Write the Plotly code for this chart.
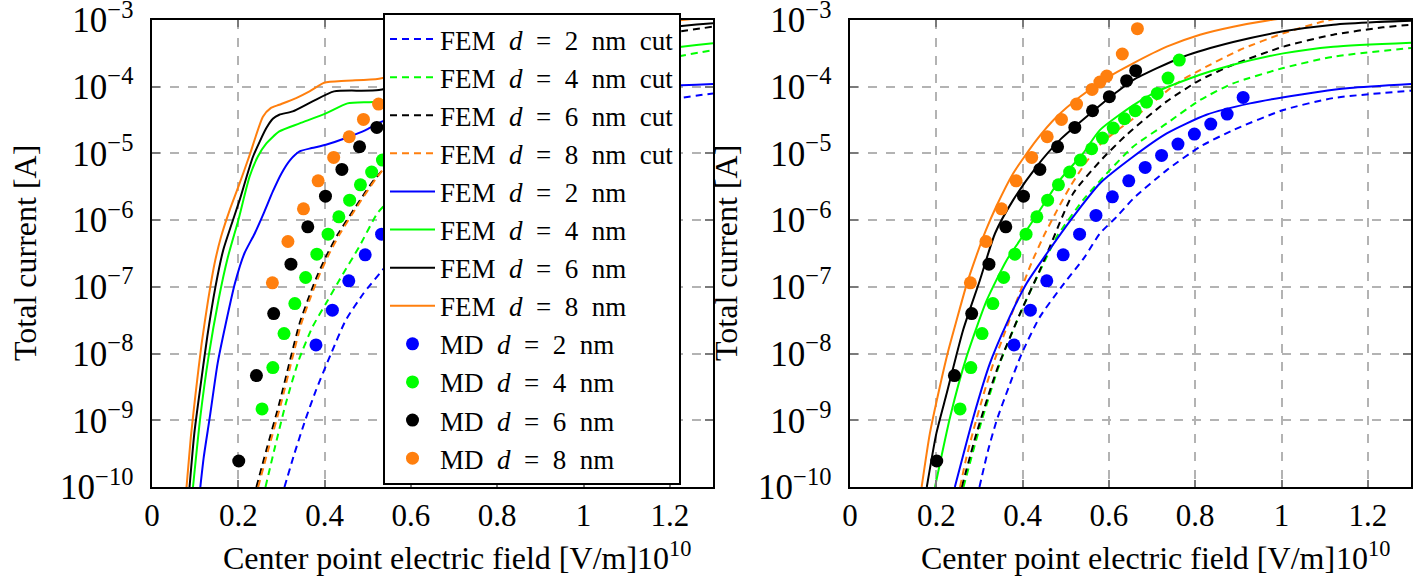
import numpy as np
import plotly.graph_objects as go

W, H = 1427, 583

# ---------------- data (log10 of total current [A]) ----------------
# MD points (identical in both panels); x in units of 1e10 V/m
md2_x = [0.380, 0.418, 0.456, 0.494, 0.532, 0.570, 0.608, 0.646, 0.684, 0.722, 0.760, 0.798, 0.836, 0.874, 0.911]
md2_lg = [-7.87, -7.35, -6.91, -6.52, -6.21, -5.93, -5.65, -5.41, -5.21, -5.03, -4.86, -4.71, -4.56, -4.41, -4.16]
md4_x = [0.255, 0.280, 0.306, 0.331, 0.356, 0.382, 0.408, 0.433, 0.458, 0.483, 0.509, 0.534, 0.560, 0.585,
         0.610, 0.636, 0.661, 0.687, 0.712, 0.737, 0.763]
md4_lg = [-8.83, -8.21, -7.70, -7.25, -6.86, -6.51, -6.21, -5.95, -5.70, -5.47, -5.28, -5.10, -4.93, -4.77,
          -4.62, -4.48, -4.36, -4.23, -4.10, -3.87, -3.60]
md6_x = [0.201, 0.242, 0.282, 0.322, 0.361, 0.402, 0.440, 0.481, 0.521, 0.562, 0.601, 0.641, 0.662]
md6_lg = [-9.61, -8.33, -7.40, -6.66, -6.10, -5.64, -5.24, -4.90, -4.61, -4.36, -4.15, -3.91, -3.76]
md8_x = [0.279, 0.315, 0.351, 0.385, 0.421, 0.457, 0.490, 0.525, 0.561, 0.579, 0.595, 0.631, 0.666]
md8_lg = [-6.94, -6.32, -5.83, -5.41, -5.06, -4.75, -4.49, -4.26, -4.04, -3.93, -3.84, -3.51, -3.13]

# Left panel FEM (full)
L_fem2_x = [0.112, 0.120, 0.134, 0.152, 0.171, 0.192, 0.214, 0.238, 0.260, 0.280, 0.300, 0.320, 0.342, 0.370, 0.403, 0.457, 0.495, 0.534, 0.7, 0.9, 1.1, 1.3]
L_fem2_lg = [-10.0, -9.55, -8.95, -8.15, -7.55, -6.95, -6.50, -6.20, -5.88, -5.57, -5.30, -5.10, -4.97, -4.92, -4.87, -4.75, -4.65, -4.52, -4.30, -4.12, -4.02, -3.96]
L_fem4_x = [0.095, 0.112, 0.131, 0.154, 0.176, 0.200, 0.226, 0.245, 0.265, 0.295, 0.342, 0.403, 0.453, 0.526, 0.7, 0.9, 1.1, 1.3]
L_fem4_lg = [-10.0, -8.95, -8.05, -7.20, -6.55, -6.00, -5.35, -5.05, -4.85, -4.67, -4.55, -4.40, -4.25, -4.22, -3.95, -3.70, -3.50, -3.35]
L_fem6_x = [0.087, 0.098, 0.110, 0.128, 0.147, 0.165, 0.185, 0.203, 0.234, 0.265, 0.280, 0.295, 0.326, 0.372, 0.422, 0.526, 0.7, 0.9, 1.1, 1.3]
L_fem6_lg = [-10.0, -9.20, -8.60, -7.75, -7.00, -6.45, -6.05, -5.70, -5.05, -4.62, -4.48, -4.42, -4.37, -4.22, -4.07, -4.05, -3.75, -3.40, -3.17, -3.05]
L_fem8_x = [0.080, 0.090, 0.101, 0.115, 0.130, 0.145, 0.160, 0.180, 0.203, 0.226, 0.257, 0.275, 0.295, 0.334, 0.365, 0.399, 0.450, 0.526, 0.7, 0.9, 1.1, 1.3]
L_fem8_lg = [-10.0, -9.25, -8.60, -7.85, -7.20, -6.65, -6.25, -5.85, -5.45, -5.03, -4.45, -4.32, -4.27, -4.17, -4.07, -3.94, -3.91, -3.88, -3.60, -3.30, -3.10, -2.95]
# Left panel FEM cut
L_cut2_x = [0.307, 0.330, 0.355, 0.380, 0.415, 0.449, 0.490, 0.534, 0.7, 0.9, 1.1, 1.3]
L_cut2_lg = [-10.0, -9.50, -9.00, -8.55, -8.00, -7.50, -7.10, -6.75, -5.50, -4.70, -4.30, -4.10]
L_cut4_x = [0.263, 0.285, 0.310, 0.340, 0.372, 0.403, 0.434, 0.480, 0.522, 0.550, 0.7, 0.9, 1.1, 1.3]
L_cut4_lg = [-10.0, -9.40, -8.75, -8.10, -7.60, -7.25, -6.90, -6.40, -5.90, -5.70, -4.70, -4.10, -3.70, -3.45]
L_cut6_x = [0.242, 0.265, 0.295, 0.320, 0.342, 0.361, 0.380, 0.403, 0.430, 0.472, 0.518, 0.7, 0.9, 1.1, 1.3]
L_cut6_lg = [-10.0, -9.45, -8.75, -8.10, -7.55, -7.20, -6.88, -6.55, -6.22, -5.80, -5.37, -4.20, -3.60, -3.30, -3.10]
L_cut8_x = [0.246, 0.269, 0.299, 0.324, 0.346, 0.365, 0.384, 0.407, 0.434, 0.475, 0.520, 0.7, 0.9, 1.1, 1.3]
L_cut8_lg = [-10.0, -9.45, -8.75, -8.10, -7.55, -7.20, -6.88, -6.55, -6.22, -5.80, -5.37, -4.00, -3.40, -3.05, -2.85]

# Right panel FEM (full)
R_fem2_x = [0.243, 0.286, 0.324, 0.363, 0.409, 0.456, 0.517, 0.579, 0.656, 0.734, 0.826, 0.927, 1.042, 1.158, 1.3]
R_fem2_lg = [-10.0, -8.95, -8.15, -7.55, -6.95, -6.50, -5.95, -5.45, -5.05, -4.70, -4.42, -4.25, -4.12, -4.02, -3.96]
R_fem4_x = [0.197, 0.232, 0.270, 0.317, 0.363, 0.394, 0.440, 0.486, 0.540, 0.579, 0.656, 0.712, 0.811, 0.888, 1.004, 1.12, 1.3]
R_fem4_lg = [-10.0, -8.95, -8.05, -7.20, -6.60, -6.30, -5.85, -5.40, -5.00, -4.65, -4.28, -4.07, -3.82, -3.67, -3.50, -3.40, -3.34]
R_fem6_x = [0.178, 0.200, 0.224, 0.262, 0.301, 0.336, 0.378, 0.432, 0.486, 0.548, 0.618, 0.656, 0.772, 0.888, 1.004, 1.12, 1.22, 1.3]
R_fem6_lg = [-10.0, -9.20, -8.60, -7.65, -6.90, -6.20, -5.70, -5.20, -4.80, -4.45, -4.08, -3.90, -3.55, -3.33, -3.17, -3.07, -3.03, -3.01]
R_fem8_x = [0.166, 0.185, 0.208, 0.228, 0.247, 0.270, 0.292, 0.315, 0.340, 0.378, 0.432, 0.479, 0.533, 0.595, 0.656, 0.734, 0.811, 0.888, 0.965, 1.1, 1.3]
R_fem8_lg = [-10.0, -9.20, -8.50, -7.95, -7.50, -6.97, -6.55, -6.15, -5.78, -5.30, -4.80, -4.45, -4.15, -3.87, -3.65, -3.40, -3.22, -3.10, -3.01, -2.90, -2.80]
# Right panel FEM cut
R_cut2_x = [0.300, 0.320, 0.340, 0.368, 0.398, 0.440, 0.490, 0.544, 0.579, 0.618, 0.656, 0.734, 0.811, 0.888, 1.004, 1.12, 1.3]
R_cut2_lg = [-10.0, -9.45, -9.00, -8.50, -8.00, -7.45, -7.00, -6.55, -6.20, -5.95, -5.68, -5.25, -4.90, -4.65, -4.35, -4.17, -4.06]
R_cut4_x = [0.263, 0.301, 0.347, 0.401, 0.456, 0.479, 0.540, 0.595, 0.656, 0.734, 0.811, 0.888, 1.004, 1.12, 1.3]
R_cut4_lg = [-10.0, -9.10, -8.15, -7.30, -6.55, -6.25, -5.70, -5.30, -4.90, -4.55, -4.20, -3.95, -3.72, -3.55, -3.42]
R_cut6_x = [0.259, 0.293, 0.340, 0.394, 0.440, 0.463, 0.517, 0.579, 0.641, 0.734, 0.811, 0.888, 1.004, 1.12, 1.235, 1.3]
R_cut6_lg = [-10.0, -9.20, -8.25, -7.40, -6.75, -6.40, -5.60, -5.12, -4.72, -4.22, -3.90, -3.67, -3.40, -3.22, -3.11, -3.07]
R_cut8_x = [0.255, 0.270, 0.286, 0.310, 0.332, 0.355, 0.378, 0.400, 0.420, 0.448, 0.480, 0.510, 0.545, 0.579, 0.620, 0.656, 0.757, 0.811, 0.903, 1.004, 1.104, 1.2, 1.3]
R_cut8_lg = [-10.0, -9.55, -9.15, -8.60, -8.15, -7.75, -7.35, -6.98, -6.65, -6.25, -5.85, -5.50, -5.15, -4.87, -4.65, -4.48, -3.95, -3.75, -3.45, -3.20, -3.01, -2.90, -2.80]

x_ticks = [0, 0.2, 0.4, 0.6, 0.8, 1.0, 1.2]
x_ticktext = ["0", "0.2", "0.4", "0.6", "0.8", "1", "1.2"]
y_decades = [-10, -9, -8, -7, -6, -5, -4, -3]
y_minor_mult = [2, 3, 4, 5, 6, 7, 8, 9]

labels_d = ["2", "4", "6", "8"]
colors = ["#0000ff", "#00ff00", "#000000", "#ff7f0e"]

FONT = "Liberation Serif"
FS = 31
YFS = 28
TITLE_FS = 32
LEG_FS = 27
SP = "\u2002"

def pe(v):
    return 10.0 ** np.asarray(v, dtype=float)

fig = go.Figure()

panels = [
    ("x", "y", True,
     [(L_cut2_x, L_cut2_lg), (L_cut4_x, L_cut4_lg), (L_cut6_x, L_cut6_lg), (L_cut8_x, L_cut8_lg)],
     [(L_fem2_x, L_fem2_lg), (L_fem4_x, L_fem4_lg), (L_fem6_x, L_fem6_lg), (L_fem8_x, L_fem8_lg)]),
    ("x2", "y2", False,
     [(R_cut2_x, R_cut2_lg), (R_cut4_x, R_cut4_lg), (R_cut6_x, R_cut6_lg), (R_cut8_x, R_cut8_lg)],
     [(R_fem2_x, R_fem2_lg), (R_fem4_x, R_fem4_lg), (R_fem6_x, R_fem6_lg), (R_fem8_x, R_fem8_lg)]),
]
md_sets = [(md2_x, md2_lg), (md4_x, md4_lg), (md6_x, md6_lg), (md8_x, md8_lg)]

for xa, ya, showleg, cuts, fems in panels:
    for i, (xs, ys) in enumerate(cuts):
        fig.add_trace(go.Scatter(x=xs, y=pe(ys), mode="lines", xaxis=xa, yaxis=ya,
                                 line=dict(color=colors[i], width=2, dash="7px,5px", shape="spline", smoothing=0.6),
                                 name=f"FEM{SP}<i>d</i>{SP}={SP}{labels_d[i]}{SP}nm{SP}cut", showlegend=showleg))
    for i, (xs, ys) in enumerate(fems):
        fig.add_trace(go.Scatter(x=xs, y=pe(ys), mode="lines", xaxis=xa, yaxis=ya,
                                 line=dict(color=colors[i], width=2, shape="spline", smoothing=0.6),
                                 name=f"FEM{SP}<i>d</i>{SP}={SP}{labels_d[i]}{SP}nm", showlegend=showleg))
    for i, (xs, ys) in enumerate(md_sets):
        fig.add_trace(go.Scatter(x=xs, y=pe(ys), mode="markers", xaxis=xa, yaxis=ya,
                                 marker=dict(color=colors[i], size=13),
                                 name=f"MD{SP}<i>d</i>{SP}={SP}{labels_d[i]}{SP}nm", showlegend=showleg))

def px2x(p):
    return p / W

def py2y(p):
    return 1 - p / H

ydom = [py2y(487), py2y(20)]
grid_col = "#b3b3b3"
tick_col = "#7a7a7a"
minor_vals = [m * 10.0 ** e for e in y_decades[:-1] for m in y_minor_mult]

def xaxis_cfg(dom, anchor):
    return dict(domain=dom, anchor=anchor, range=[0, 1.3], tickvals=x_ticks, ticktext=x_ticktext,
                showgrid=True, gridcolor=grid_col, griddash="dash", gridwidth=1.5,
                showline=True, linecolor="black", linewidth=2, mirror="allticks",
                ticks="inside", ticklen=7, tickcolor=tick_col, tickwidth=1.5,
                tickfont=dict(family=FONT, size=FS, color="black"), zeroline=False,
                ticklabelstandoff=0, ticklabeloverflow="allow", automargin=False)

def yaxis_cfg(anchor):
    return dict(domain=ydom, anchor=anchor, type="log", range=[-10, -3],
                dtick=1, exponentformat="power", showexponent="all",
                showgrid=True, gridcolor=grid_col, griddash="dash", gridwidth=1.5,
                showline=True, linecolor="black", linewidth=2, mirror="allticks",
                ticks="inside", ticklen=8, tickcolor=tick_col, tickwidth=1.5,
                tickfont=dict(family=FONT, size=YFS, color="black"), zeroline=False,
                ticklabelstandoff=11, ticklabeloverflow="allow", automargin=False)

def yminor_cfg(anchor, overlay):
    return dict(domain=ydom, anchor=anchor, overlaying=overlay, type="log", range=[-10, -3],
                tickvals=minor_vals, showticklabels=False, showgrid=False, showline=False,
                mirror="ticks", ticks="inside", ticklen=5, tickcolor=tick_col, tickwidth=1.5,
                zeroline=False, automargin=False)

fig.update_layout(
    width=W, height=H, margin=dict(l=0, r=0, t=0, b=0, autoexpand=False),
    paper_bgcolor="white", plot_bgcolor="white",
    xaxis=xaxis_cfg([px2x(152), px2x(713)], "y"),
    yaxis=yaxis_cfg("x"),
    xaxis2=xaxis_cfg([px2x(850), px2x(1411)], "y2"),
    yaxis2=yaxis_cfg("x2"),
    yaxis3=yminor_cfg("x", "y"),
    yaxis4=yminor_cfg("x2", "y2"),
    legend=dict(x=px2x(383), y=py2y(13), xanchor="left", yanchor="top",
                bgcolor="white", bordercolor="black", borderwidth=2,
                font=dict(family=FONT, size=LEG_FS, color="black"), tracegroupgap=0,
                itemwidth=45),
    font=dict(family=FONT, color="black"),
)

ann = []
for cx in [430, 1128]:
    ann.append(dict(text="Center point electric field [V/m]", x=px2x(cx), y=py2y(578),
                    xref="paper", yref="paper", showarrow=False,
                    font=dict(family=FONT, size=TITLE_FS, color="black"), xanchor="center", yanchor="bottom"))
for cx in [664, 1363]:
    ann.append(dict(text="10<sup>10</sup>", x=px2x(cx), y=py2y(578),
                    xref="paper", yref="paper", showarrow=False,
                    font=dict(family=FONT, size=TITLE_FS, color="black"), xanchor="center", yanchor="bottom"))
for cx in [25, 726]:
    ann.append(dict(text="Total current [A]", x=px2x(cx), y=py2y(253),
                    xref="paper", yref="paper", showarrow=False, textangle=-90,
                    font=dict(family=FONT, size=TITLE_FS, color="black"), xanchor="center", yanchor="middle"))
fig.update_layout(annotations=ann)

fig.write_html("out.html")
